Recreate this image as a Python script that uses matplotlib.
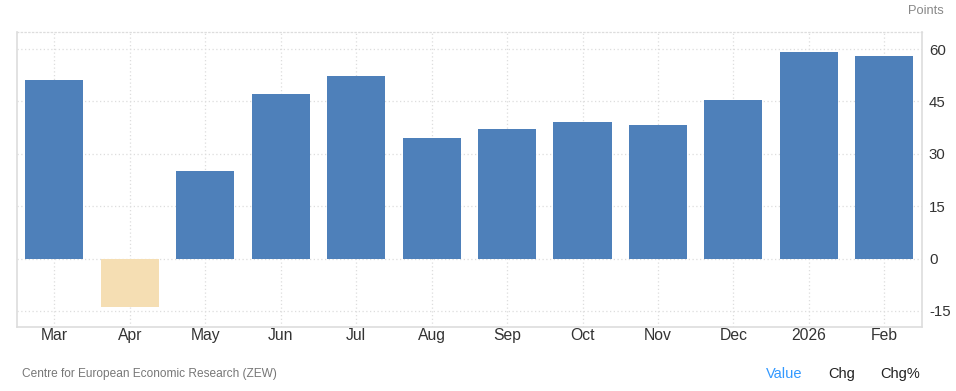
import matplotlib
matplotlib.use("Agg")
import matplotlib.pyplot as plt

months = ['Mar', 'Apr', 'May', 'Jun', 'Jul', 'Aug', 'Sep', 'Oct', 'Nov', 'Dec', '2026', 'Feb']
values = [51.2, -13.8, 25.1, 47.2, 52.3, 34.6, 37.2, 39.2, 38.3, 45.5, 59.2, 58.1]
yticks = [-15, 0, 15, 30, 45, 60]

plt.rcParams['font.family'] = ['Liberation Sans', 'DejaVu Sans']

fig = plt.figure(figsize=(9.56, 3.91), dpi=100)
ax = fig.add_axes([0.0175, 0.1637, 0.9469, 0.7553])

colors = ['#4e80ba' if v >= 0 else '#f5deb3' for v in values]
x = range(len(months))
ax.bar(x, values, width=0.77, color=colors, zorder=2)

ax.set_xlim(-0.5, 11.5)
ax.set_ylim(-19.6, 65)
ax.set_xticks(list(x))
ax.set_xticklabels(months, fontsize=11.3, color='#333333')
ax.set_yticks(yticks)
ax.set_yticklabels([str(t) for t in yticks], fontsize=10.8, color='#333333')
ax.yaxis.tick_right()
ax.tick_params(axis='both', length=0)
ax.tick_params(axis='x', pad=1)
ax.tick_params(axis='y', pad=5)

ax.grid(True, color='#dddddd', linestyle=(0, (1, 2)), linewidth=0.9, zorder=0)
for side in ['left', 'right', 'bottom']:
    ax.spines[side].set_color('#dddddd')
    ax.spines[side].set_linewidth(1.2)
ax.spines['top'].set_color('#dddddd')
ax.spines['top'].set_linestyle((0, (1, 2)))
ax.spines['top'].set_linewidth(0.9)

fig.text(944 / 956, 1 - 11 / 391, 'Points', ha='right', va='center', fontsize=9.3, color='#888888')
fig.text(22 / 956, 1 - 374 / 391, 'Centre for European Economic Research (ZEW)',
         ha='left', va='center', fontsize=8.6, color='#777777')
fig.text(784 / 956, 1 - 374 / 391, 'Value', ha='center', va='center', fontsize=10.5, color='#3399ff')
fig.text(842 / 956, 1 - 374 / 391, 'Chg', ha='center', va='center', fontsize=10.5, color='#222222')
fig.text(900 / 956, 1 - 374 / 391, 'Chg%', ha='center', va='center', fontsize=10.5, color='#222222')

fig.savefig('out.png', dpi=100)
